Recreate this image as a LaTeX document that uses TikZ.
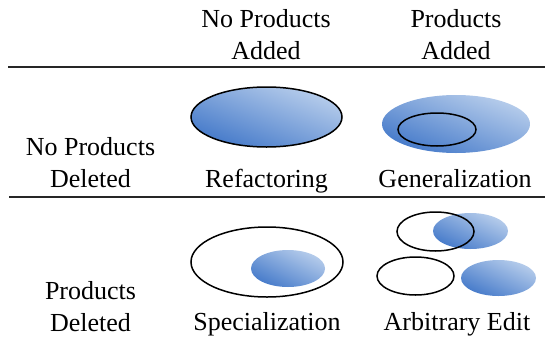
\documentclass[tikz,border=0pt]{standalone}
\usepackage{fontspec}
\setmainfont{Liberation Serif}
\usetikzlibrary{shadings}
\definecolor{dk}{RGB}{50,108,196}
\definecolor{lt}{RGB}{202,219,241}
\begin{document}
\begin{tikzpicture}[x=1pt,y=-1pt,
  lbl/.style={font=\fontsize{26}{32}\selectfont, inner sep=0pt, anchor=base, align=center},
  blob/.style={lower left=dk, upper right=lt, upper left=dk!50!lt, lower right=dk!50!lt},
  ring/.style={draw=black, line width=1.5pt},
  rule/.style={draw=black!85, line width=1.2pt}]
\useasboundingbox (0,0) rectangle (545,340);
% rules
\draw[rule] (8,67) -- (545,67);
\draw[rule] (9,197) -- (545,197);
% header (anchor = baseline of last line)
\node[lbl] (h2) at (266,59) {No Products\\Added};
\node[lbl] (h3) at (456,59) {Products\\Added};
% row labels
\node[lbl] (r1) at (90.5,187) {No Products\\Deleted};
\node[lbl] (r2) at (90.5,331) {Products\\Deleted};
% cell labels
\node[lbl] (c11) at (266.5,187) {Refactoring};
\node[lbl] (c12) at (455,187) {Generalization};
\node[lbl] (c21) at (267,330) {Specialization};
\node[lbl] (c22) at (457,330) {Arbitrary Edit};
% Refactoring
\shade[blob] (266.5,117) ellipse [x radius=75.5, y radius=30];
\draw[ring] (266.5,117) ellipse [x radius=75.5, y radius=30];
% Generalization
\shade[blob] (456,124) ellipse [x radius=74, y radius=29];
\draw[ring] (437,129.5) ellipse [x radius=39, y radius=16.5];
% Specialization
\shade[blob] (288,268.5) ellipse [x radius=37, y radius=18.5];
\draw[ring] (267,262) ellipse [x radius=76, y radius=35];
% Arbitrary Edit
\shade[blob] (470.5,231) ellipse [x radius=37.5, y radius=18];
\draw[ring] (435.5,231.5) ellipse [x radius=38.5, y radius=19.5];
\shade[blob] (498.5,278) ellipse [x radius=37.5, y radius=18];
\draw[ring] (415.5,276) ellipse [x radius=38.5, y radius=19];
\end{tikzpicture}
\end{document}
